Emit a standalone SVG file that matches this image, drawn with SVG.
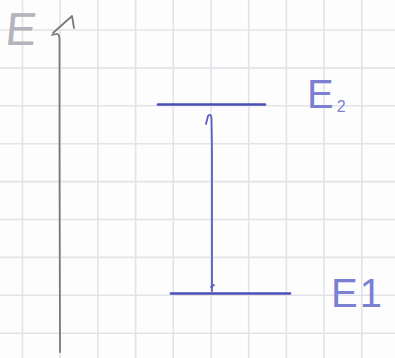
<svg xmlns="http://www.w3.org/2000/svg" width="395" height="358" viewBox="0 0 395 358">
<style>
.grid line{stroke:#e3e3ea;stroke-width:1.6}
.pencil{fill:none;stroke:#7a7a7a;stroke-width:1.8;stroke-linecap:round;stroke-linejoin:round}
.ink{fill:none;stroke:#4b4fb4;stroke-width:2.6;stroke-linecap:round;stroke-linejoin:round}
.inkthin{fill:none;stroke:#5a5ec0;stroke-width:1.8;stroke-linecap:round;stroke-linejoin:round}
.lbl{font-family:"Liberation Sans",Arial,sans-serif}
</style>
<rect width="395" height="358" fill="#fdfdfd"/>
<g class="grid" id="grid">
<line x1="22.5" y1="0" x2="22.5" y2="358"/>
<line x1="60.2" y1="0" x2="60.2" y2="358"/>
<line x1="97.9" y1="0" x2="97.9" y2="358"/>
<line x1="135.6" y1="0" x2="135.6" y2="358"/>
<line x1="173.3" y1="0" x2="173.3" y2="358"/>
<line x1="211" y1="0" x2="211" y2="358"/>
<line x1="248.7" y1="0" x2="248.7" y2="358"/>
<line x1="286.4" y1="0" x2="286.4" y2="358"/>
<line x1="324.1" y1="0" x2="324.1" y2="358"/>
<line x1="361.8" y1="0" x2="361.8" y2="358"/>
<line x1="0" y1="30" x2="395" y2="30"/>
<line x1="0" y1="67.9" x2="395" y2="67.9"/>
<line x1="0" y1="105.8" x2="395" y2="105.8"/>
<line x1="0" y1="143.7" x2="395" y2="143.7"/>
<line x1="0" y1="181.6" x2="395" y2="181.6"/>
<line x1="0" y1="219.5" x2="395" y2="219.5"/>
<line x1="0" y1="257.4" x2="395" y2="257.4"/>
<line x1="0" y1="295.3" x2="395" y2="295.3"/>
<line x1="0" y1="333.2" x2="395" y2="333.2"/>
</g>
<g id="axis">
<path class="pencil" d="M60 352 L59.5 150 L59.5 40 Q59.5 33 56 34 L52 35"/>
<path class="pencil" d="M53 33 L72 16 L74 28"/>
<text class="lbl" x="5" y="45" font-size="46" fill="#b4b4bc" transform="skewX(-6) translate(4,0)">E</text>
</g>
<g id="level-e2">
<line class="ink" x1="158" y1="104.5" x2="265" y2="104.5"/>
<text class="lbl" x="307" y="108" font-size="40" fill="#7c80d2">E<tspan font-size="16" dx="3" dy="4">2</tspan></text>
</g>
<g id="level-e1">
<line class="ink" x1="171" y1="293.5" x2="290" y2="293.5"/>
<text class="lbl" x="331" y="307" font-size="40" fill="#7c80d2">E<tspan dx="2">1</tspan></text>
</g>
<g id="connectors">
<path class="inkthin" d="M212 291 L212 150 L211.5 118 Q211 113 208 116 L206 124"/>
<path class="inkthin" d="M211 287 L214 285"/>
</g>
</svg>
